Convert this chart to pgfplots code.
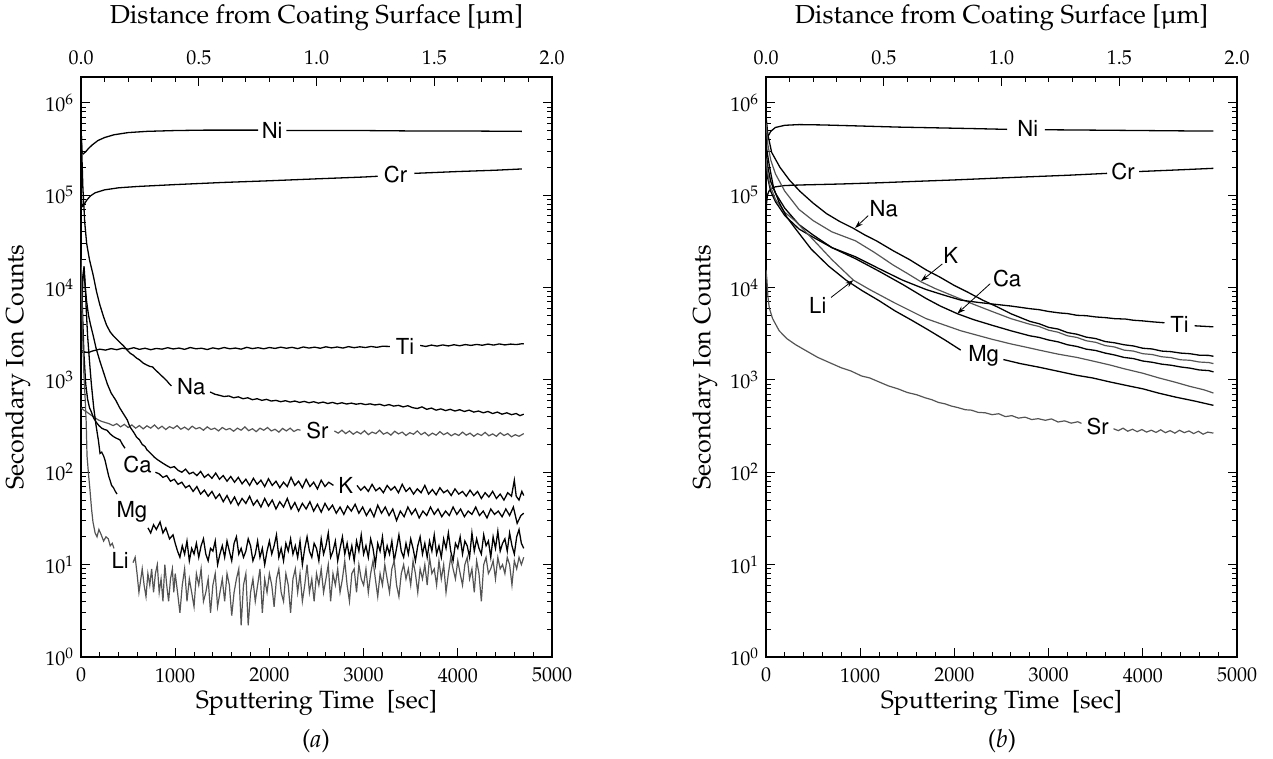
\documentclass[border=0pt]{standalone}
\usepackage[T1]{fontenc}
\usepackage{mathpazo}
\usepackage[scaled=0.92]{helvet}
\usepackage{textcomp}
\usepackage{pgfplots}
\pgfplotsset{compat=1.18}
\usetikzlibrary{arrows.meta}
\definecolor{gr}{gray}{0.33}
\tikzset{
  blk/.style={black, line width=0.65pt},
  gry/.style={gr, line width=0.6pt},
  lab/.style={font=\sffamily\fontsize{12}{14}\selectfont, inner sep=0pt},
  arr/.style={-{Stealth[length=4pt,width=2.6pt]}, line width=0.4pt, black},
}
\begin{document}
\begin{tikzpicture}
\path[use as bounding box] (0,0) rectangle (636.5pt,379.5pt);
% ---------------- panel (a) ----------------
\begin{axis}[at={(40.5pt,51pt)},
    anchor=south west, scale only axis, width=235.5pt, height=290pt,
    xmin=0, xmax=5000, ymode=log, ymin=1, ymax=1.9e6,
    xtick={0,1000,2000,3000,4000,5000}, minor x tick num=4,
    xtick pos=left, ytick={1,10,100,1000,10000,100000,1000000},
    tick align=inside, scaled x ticks=false,
    xticklabel style={/pgf/number format/1000 sep={}, yshift=-2pt},
    axis line style={line width=0.9pt}, tick style={line width=0.45pt, black},
    major tick length=4.5pt, minor tick length=2.5pt,
    tick label style={font=\fontsize{10}{12}\selectfont},
    label style={font=\fontsize{12.5}{14}\selectfont},
    xlabel={Sputtering Time\enspace[sec]}, ylabel={Secondary Ion Counts},
    x label style={at={(axis description cs:0.5,-0.08)}, anchor=center},
    y label style={at={(axis description cs:-0.134,0.5)}, anchor=center, rotate=0},
    unbounded coords=jump]
% Ni
\addplot[blk] coordinates {(0,5.5e5) (5,4e5) (10,2.9e5) (25,2.8e5) (50,2.95e5) (80,3.2e5) (120,3.5e5) (180,3.9e5) (250,4.2e5) (350,4.5e5) (500,4.75e5) (700,4.9e5) (1000,5.0e5) (1300,5.05e5) (1600,5.05e5) (1880,5.05e5) (1900,nan) (2180,5.0e5) (2600,5.0e5) (3000,5.0e5) (3500,4.95e5) (4000,4.95e5) (4680,4.9e5)};
% Cr
\addplot[blk] coordinates {(0,1.1e5) (5,9e4) (12,7.5e4) (30,7.8e4) (60,8.8e4) (100,9.8e4) (150,1.06e5) (250,1.14e5) (400,1.2e5) (600,1.24e5) (1000,1.3e5) (1500,1.37e5) (2000,1.43e5) (2500,1.5e5) (3000,1.57e5) (3150,1.6e5) (3200,nan) (3540,1.72e5) (4000,1.8e5) (4400,1.86e5) (4680,1.92e5)};
% Ti
\addplot[blk] coordinates {(0,2100) (40,2000) (80,1980) (120,2050) (160,2100) (200,2150) (260,2100) (320,2180) (380,2120) (440,2200) (500,2150) (560,2230) (620,2140) (680,2200) (740,2120) (800,2190) (860,2150) (920,2230) (980,2160) (1040,2210) (1100,2140) (1160,2240) (1220,2170) (1280,2200) (1340,2130) (1400,2220) (1460,2160) (1520,2240) (1580,2170) (1640,2210) (1700,2150) (1760,2250) (1820,2180) (1880,2230) (1940,2170) (2000,2240) (2060,2190) (2120,2260) (2180,2200) (2240,2250) (2300,2180) (2360,2270) (2420,2210) (2480,2260) (2540,2200) (2600,2280) (2660,2220) (2720,2270) (2780,2210) (2840,2290) (2900,2230) (2960,2280) (3020,2240) (3080,2300) (3140,2250) (3200,2310) (3280,2300) (3300,nan) (3600,2360) (3660,2300) (3720,2380) (3780,2320) (3840,2390) (3900,2330) (3960,2400) (4020,2340) (4080,2410) (4140,2360) (4200,2420) (4260,2370) (4320,2440) (4380,2380) (4440,2450) (4500,2390) (4560,2440) (4620,2410) (4680,2460) (4700,2450)};
% Na
\addplot[blk] coordinates {(0,6e5) (8,3e5) (20,1.2e5) (40,5e4) (60,3e4) (90,2e4) (130,1.35e4) (165,9e3) (200,6.5e3) (240,4.8e3) (272,3.9e3) (310,3.3e3) (343,3.0e3) (380,2.75e3) (420,2.5e3) (449,2.35e3) (490,2.1e3) (520,1.95e3) (555,1.85e3) (590,1.72e3) (620,1.65e3) (660,1.52e3) (697,1.45e3) (730,1.4e3) (760,1.38e3) (790,1.28e3) (820,1.2e3) (850,1.12e3) (880,1.05e3) (910,980) (940,900) (960,860) (980,nan) (1370,740) (1420,700) (1470,680) (1520,660) (1570,670) (1620,640) (1670,655) (1720,625) (1770,640) (1820,610) (1870,625) (1920,600) (1970,615) (2020,590) (2070,600) (2120,580) (2170,595) (2220,575) (2270,590) (2320,570) (2370,585) (2420,565) (2470,580) (2520,560) (2570,575) (2620,555) (2670,570) (2720,550) (2770,565) (2820,548) (2870,560) (2920,545) (2970,555) (3020,540) (3070,550) (3120,535) (3170,545) (3220,525) (3270,540) (3320,520) (3370,530) (3420,510) (3470,525) (3520,500) (3570,490) (3620,510) (3670,480) (3720,495) (3770,470) (3820,485) (3870,465) (3920,480) (3970,460) (4020,475) (4070,455) (4120,470) (4170,448) (4220,460) (4270,440) (4320,455) (4370,432) (4420,448) (4470,425) (4520,440) (4570,420) (4620,432) (4660,410) (4700,425)};
% Sr
\addplot[gry] coordinates {(0,500) (30,470) (60,450) (100,420) (140,395) (180,370) (220,355) (260,345) (300,335) (340,320) (380,335) (420,310) (460,330) (500,305) (540,325) (580,300) (620,320) (660,295) (700,318) (740,300) (780,325) (820,295) (860,315) (900,290) (940,312) (980,298) (1020,320) (1060,292) (1100,308) (1140,288) (1180,315) (1220,295) (1260,305) (1300,285) (1340,310) (1380,290) (1420,300) (1460,280) (1500,305) (1540,288) (1580,298) (1620,278) (1660,300) (1700,285) (1740,310) (1780,282) (1820,296) (1860,275) (1900,300) (1940,285) (1980,305) (2020,280) (2060,292) (2100,272) (2140,298) (2180,280) (2220,300) (2260,276) (2300,290) (2330,285) (2350,nan) (2690,280) (2730,265) (2770,285) (2810,262) (2850,280) (2890,258) (2930,275) (2970,260) (3010,282) (3050,255) (3090,272) (3130,262) (3170,285) (3210,258) (3250,270) (3290,252) (3330,278) (3370,260) (3410,272) (3450,250) (3490,268) (3530,258) (3570,280) (3610,255) (3650,270) (3690,248) (3730,265) (3770,252) (3810,275) (3850,255) (3890,268) (3930,248) (3970,262) (4010,250) (4050,272) (4090,252) (4130,265) (4170,245) (4210,262) (4250,250) (4290,270) (4330,248) (4370,260) (4410,245) (4450,268) (4490,250) (4530,262) (4570,242) (4610,255) (4650,245) (4700,262)};
% K
\addplot[blk] coordinates {(0,8e3) (15,1.2e4) (30,1.6e4) (45,1.0e4) (60,7e3) (80,5e3) (100,4e3) (130,3e3) (160,2.2e3) (200,1.6e3) (240,1.2e3) (280,900) (320,720) (370,600) (410,500) (450,430) (490,370) (520,310) (560,270) (590,240) (620,225) (650,200) (680,190) (700,175) (740,160) (780,145) (820,135) (870,125) (910,118) (950,112) (990,115) (1030,105) (1070,100) (1110,108) (1150,96) (1190,100) (1230,92) (1270,102) (1310,88) (1350,95) (1390,86) (1430,98) (1470,84) (1510,92) (1550,80) (1590,90) (1630,78) (1670,88) (1710,75) (1750,84) (1790,72) (1830,86) (1870,74) (1910,82) (1950,70) (1990,85) (2030,72) (2070,80) (2110,68) (2150,78) (2190,70) (2230,88) (2270,72) (2310,80) (2350,68) (2390,84) (2430,70) (2470,78) (2510,66) (2550,82) (2590,70) (2630,78) (2680,72) (2700,nan) (2930,72) (2970,64) (3010,70) (3050,62) (3090,74) (3130,63) (3170,68) (3210,60) (3250,72) (3290,64) (3330,70) (3370,60) (3410,74) (3450,62) (3490,68) (3530,58) (3570,66) (3610,60) (3650,72) (3690,58) (3730,65) (3770,57) (3810,68) (3850,60) (3890,64) (3930,56) (3970,66) (4010,58) (4050,62) (4090,55) (4130,64) (4170,56) (4210,62) (4250,52) (4290,60) (4330,54) (4370,62) (4410,52) (4450,58) (4490,50) (4530,60) (4570,55) (4600,82) (4620,55) (4650,50) (4680,62) (4700,56)};
% Ca
\addplot[blk] coordinates {(0,1.2e4) (15,6e3) (30,2e3) (50,900) (70,620) (90,500) (110,450) (132,390) (160,350) (190,320) (220,300) (250,290) (276,285) (310,260) (340,245) (370,235) (414,224) (440,200) (467,182) (480,nan) (790,100) (830,96) (870,88) (910,92) (950,80) (990,84) (1030,74) (1070,78) (1110,68) (1150,72) (1190,62) (1230,70) (1270,58) (1310,64) (1350,55) (1390,62) (1430,52) (1470,58) (1510,48) (1550,56) (1590,46) (1630,54) (1670,44) (1710,52) (1750,46) (1790,55) (1830,44) (1870,50) (1910,42) (1950,52) (1990,43) (2030,50) (2070,40) (2110,48) (2150,42) (2190,52) (2230,40) (2270,47) (2310,38) (2350,46) (2390,40) (2430,48) (2470,38) (2510,45) (2550,37) (2590,46) (2630,39) (2670,44) (2710,36) (2750,42) (2790,35) (2830,43) (2870,38) (2910,45) (2950,36) (2990,42) (3030,34) (3070,40) (3110,33) (3150,44) (3190,36) (3230,42) (3270,34) (3310,40) (3350,30) (3390,38) (3430,33) (3470,42) (3510,35) (3550,40) (3590,32) (3630,38) (3670,34) (3710,42) (3750,35) (3790,40) (3830,33) (3870,38) (3910,34) (3950,42) (3990,35) (4030,40) (4070,33) (4110,38) (4150,35) (4190,42) (4230,34) (4270,38) (4310,32) (4350,40) (4390,35) (4430,38) (4470,33) (4510,40) (4550,34) (4590,42) (4630,28) (4670,34) (4700,36)};
% Mg
\addplot[blk] coordinates {(0,1e4) (10,6e3) (20,1.2e4) (32,1.7e4) (42,1.2e4) (55,6e3) (70,3e3) (90,1.6e3) (110,900) (135,500) (160,320) (185,220) (202,160) (220,165) (240,150) (255,135) (275,110) (295,90) (308,82) (325,72) (345,68) (361,63) (382,58) (400,nan) (711,25) (740,22) (770,27) (800,24) (839,29) (870,22) (900,25) (940,19) (977,21)
(1000,17) (1025,14) (1050,12) (1075,16) (1100,13) (1125,18) (1150,11) (1175,15) (1200,13) (1225,17)
(1250,12) (1275,16) (1300,19) (1325,13) (1350,11) (1375,15) (1400,14) (1425,18) (1450,10) (1475,13)
(1500,16) (1525,12) (1550,18) (1575,14) (1600,11) (1625,17) (1650,20) (1675,13) (1700,15) (1725,12)
(1750,14) (1775,19) (1800,16) (1825,11) (1850,13) (1875,18) (1900,12) (1925,15) (1950,10) (1975,14)
(2000,18) (2025,13) (2050,16) (2075,21) (2100,12) (2125,15) (2150,11) (2175,17) (2200,14) (2225,19)
(2250,13) (2275,16) (2300,12) (2325,18) (2350,10) (2375,15) (2400,20) (2425,14) (2450,12) (2475,17)
(2500,15) (2525,11) (2550,19) (2575,13) (2600,16) (2625,22) (2650,12) (2675,14) (2700,18) (2725,11)
(2750,15) (2775,20) (2800,13) (2825,17) (2850,12) (2875,16) (2900,11) (2925,18) (2950,14) (2975,21)
(3000,13) (3025,16) (3050,12) (3075,19) (3100,15) (3125,10) (3150,17) (3175,14) (3200,20) (3225,12)
(3250,16) (3275,13) (3300,18) (3325,11) (3350,15) (3375,21) (3400,14) (3425,12) (3450,17) (3475,13)
(3500,19) (3525,15) (3550,11) (3575,16) (3600,20) (3625,13) (3650,17) (3675,12) (3700,18) (3725,14)
(3750,21) (3775,13) (3800,16) (3825,12) (3850,19) (3875,15) (3900,22) (3925,14) (3950,11) (3975,17)
(4000,15) (4025,20) (4050,13) (4075,18) (4100,16) (4125,12) (4150,22) (4175,14) (4200,19) (4225,15)
(4250,13) (4275,21) (4300,16) (4325,18) (4350,12) (4375,20) (4400,15) (4425,23) (4450,14) (4475,17)
(4500,19) (4525,14) (4550,22) (4575,16) (4600,13) (4625,20) (4650,24) (4675,17) (4700,15)};
% Li
\addplot[gry] coordinates {(0,2e4) (8,8e3) (18,3e3) (30,1.2e3) (45,600) (55,350) (64,150) (80,95) (96,63) (112,40) (127,29) (150,22) (170,20) (190,24) (215,21) (240,18) (265,20) (290,19) (310,16) (332,17) (350,15) (370,nan) (552,10.5) (575,12) (595,8) (615,5) (635,7) (650,9) (670,6) (690,4.5) (710,8) (730,6) (750,9) (770,5) (790,8) (810,10) (830,5) (850,7) (870,4) (890,10) (910,6) (930,4) (950,7) (970,9) (985,5)
(1000,8) (1025,5) (1050,3) (1075,6) (1100,9) (1125,4) (1150,7) (1175,5) (1200,3.5) (1225,8)
(1250,6) (1275,9) (1300,4) (1325,5) (1350,7) (1375,3) (1400,6) (1425,8) (1450,3.5) (1475,5)
(1500,7) (1525,4) (1550,8) (1575,6) (1600,2.8) (1625,5) (1650,7) (1675,9) (1700,2.2) (1725,6)
(1750,8) (1775,2.2) (1800,5) (1825,7) (1850,4) (1875,6) (1900,9) (1925,3) (1950,7) (1975,5)
(2000,8) (2025,6) (2050,3.5) (2075,7) (2100,9) (2125,5) (2150,4) (2175,8) (2200,6) (2225,3)
(2250,7) (2275,9) (2300,5) (2325,8) (2350,4) (2375,6) (2400,10) (2425,5) (2450,7) (2475,4)
(2500,8) (2525,6) (2550,9) (2575,5) (2600,7) (2625,10) (2650,4) (2675,8) (2700,6) (2725,9)
(2750,5) (2775,7) (2800,11) (2825,6) (2850,4) (2875,8) (2900,9) (2925,5) (2950,10) (2975,7)
(3000,6) (3025,9) (3050,5) (3075,8) (3100,11) (3125,7) (3150,4.5) (3175,8) (3200,6) (3225,10)
(3250,7) (3275,5) (3300,9) (3325,11) (3350,6) (3375,4.5) (3400,8) (3425,10) (3450,7) (3475,9)
(3500,6) (3525,11) (3550,8) (3575,5) (3600,9) (3625,7) (3650,10) (3675,6) (3700,12) (3725,8)
(3750,9) (3775,6) (3800,11) (3825,7) (3850,10) (3875,5) (3900,8) (3925,12) (3950,9) (3975,7)
(4000,11) (4025,8) (4050,6) (4075,10) (4100,12) (4125,7) (4150,9) (4175,5) (4200,11) (4225,8)
(4250,4) (4275,10) (4300,12) (4325,8) (4350,9) (4375,11) (4400,7) (4425,12) (4450,9) (4475,10)
(4500,8) (4525,12) (4550,10) (4575,6) (4600,11) (4625,9) (4650,12) (4675,10) (4700,12)};
\node[lab] at (axis cs:2030,5.0e5) {Ni};
\node[lab] at (axis cs:3340,1.67e5) {Cr};
\node[lab] at (axis cs:3440,2.3e3) {Ti};
\node[lab] at (axis cs:1170,840) {Na};
\node[lab] at (axis cs:2510,280) {Sr};
\node[lab] at (axis cs:2810,71) {K};
\node[lab] at (axis cs:600,122) {Ca};
\node[lab] at (axis cs:540,37) {Mg};
\node[lab] at (axis cs:415,11) {Li};
\end{axis}
\begin{axis}[at={(40.5pt,51pt)},
    anchor=south west, scale only axis, width=235.5pt, height=290pt,
    xmin=0, xmax=2, ymin=0, ymax=1, axis x line*=top, axis y line=none,
    xtick={0,0.5,1,1.5,2}, minor x tick num=4, tick align=inside,
    axis line style={line width=0.9pt}, tick style={line width=0.45pt, black},
    major tick length=4.5pt, minor tick length=2.5pt,
    xticklabel style={font=\fontsize{10}{12}\selectfont, yshift=2.5pt, /pgf/number format/.cd, fixed, fixed zerofill, precision=1},
    label style={font=\fontsize{13}{15}\selectfont},
    xlabel={Distance from Coating Surface [\textmu m]},
    x label style={at={(axis description cs:0.5,1.102)}, anchor=center}]
\end{axis}
% ---------------- panel (b) ----------------
\begin{axis}[at={(383pt,51pt)},
    anchor=south west, scale only axis, width=235.5pt, height=290pt,
    xmin=0, xmax=5000, ymode=log, ymin=1, ymax=1.9e6,
    xtick={0,1000,2000,3000,4000,5000}, minor x tick num=4,
    xtick pos=left, ytick={1,10,100,1000,10000,100000,1000000},
    tick align=inside, scaled x ticks=false,
    xticklabel style={/pgf/number format/1000 sep={}, yshift=-2pt},
    axis line style={line width=0.9pt}, tick style={line width=0.45pt, black},
    major tick length=4.5pt, minor tick length=2.5pt,
    tick label style={font=\fontsize{10}{12}\selectfont},
    label style={font=\fontsize{12.5}{14}\selectfont},
    xlabel={Sputtering Time\enspace[sec]}, ylabel={Secondary Ion Counts},
    x label style={at={(axis description cs:0.5,-0.08)}, anchor=center},
    y label style={at={(axis description cs:-0.13,0.5)}, anchor=center, rotate=0},
    unbounded coords=jump]
% Ni
\addplot[blk] coordinates {(0,7.5e5) (8,5e5) (20,4.3e5) (50,4.9e5) (100,5.4e5) (200,5.7e5) (350,5.8e5) (600,5.75e5) (1000,5.6e5) (1400,5.45e5) (1800,5.35e5) (2200,5.25e5) (2560,5.15e5) (2600,nan) (2960,5.1e5) (3500,5.05e5) (4000,5.0e5) (4500,4.95e5) (4750,4.95e5)};
% Cr
\addplot[blk] coordinates {(0,5e4) (5,8e4) (15,1.0e5) (30,1.1e5) (60,1.18e5) (100,1.23e5) (200,1.27e5) (400,1.29e5) (800,1.32e5) (1200,1.36e5) (1600,1.41e5) (2000,1.46e5) (2400,1.52e5) (2800,1.58e5) (3200,1.64e5) (3620,1.72e5) (3700,nan) (3960,1.8e5) (4400,1.88e5) (4750,1.95e5)};
% Na
\addplot[blk] coordinates {(0,7e5) (20,4.5e5) (60,2.9e5) (148,2.0e5) (250,1.45e5) (360,1.1e5) (500,8.2e4) (643,6.3e4) (780,5.2e4) (922,4.4e4) (1050,3.7e4) (1172,3.2e4) (1350,2.5e4) (1525,2.0e4) (1700,1.55e4) (1843,1.3e4) (2000,1.05e4) (2150,8.8e3) (2300,7.3e3) (2450,6.2e3) (2600,5.2e3) (2800,4.3e3) (2900,4.05e3) (3000,3.7e3) (3100,3.55e3) (3200,3.25e3) (3300,3.12e3) (3400,2.9e3) (3500,2.8e3) (3600,2.6e3) (3700,2.52e3) (3800,2.4e3) (3900,2.33e3) (4000,2.2e3) (4100,2.16e3) (4200,2.05e3) (4300,2.02e3) (4400,1.95e3) (4500,1.92e3) (4600,1.85e3) (4700,1.84e3) (4750,1.8e3)};
% K
\addplot[gry] coordinates {(0,6e5) (20,3.5e5) (50,2.4e5) (100,1.7e5) (200,1.1e5) (350,7e4) (500,5.3e4) (700,4e4) (950,3.2e4) (1150,2.4e4) (1350,1.75e4) (1500,1.42e4) (1647,1.15e4) (1800,9.7e3) (2000,8.0e3) (2200,6.6e3) (2400,5.5e3) (2600,4.6e3) (2800,4.0e3) (2900,3.78e3) (3000,3.45e3) (3100,3.28e3) (3200,3.0e3) (3300,2.88e3) (3400,2.65e3) (3500,2.55e3) (3600,2.35e3) (3700,2.27e3) (3800,2.1e3) (3900,2.05e3) (4000,1.92e3) (4100,1.88e3) (4200,1.78e3) (4300,1.74e3) (4400,1.65e3) (4500,1.63e3) (4600,1.56e3) (4700,1.54e3) (4750,1.5e3)};
% Ti
\addplot[blk] coordinates {(0,2e5) (20,1.5e5) (50,1.1e5) (100,8.5e4) (200,6e4) (350,4.3e4) (500,3.5e4) (700,2.7e4) (950,2.15e4) (1200,1.6e4) (1450,1.2e4) (1700,9.5e3) (1900,8.2e3) (2068,7.3e3) (2250,6.9e3) (2418,6.6e3) (2600,6.3e3) (2800,5.9e3) (2900,5.75e3) (3000,5.5e3) (3118,5.3e3) (3200,5.22e3) (3300,5.0e3) (3400,4.95e3) (3500,4.8e3) (3600,4.72e3) (3700,4.6e3) (3819,4.55e3) (3900,4.42e3) (4000,4.35e3) (4100,4.25e3) (4230,4.15e3) (4250,nan) (4550,3.85e3) (4650,3.8e3) (4750,3.75e3)};
% Ca
\addplot[blk] coordinates {(0,3e5) (20,2e5) (50,1.4e5) (100,1.05e5) (200,7.2e4) (350,4.8e4) (500,3.7e4) (700,2.7e4) (950,2.05e4) (1200,1.5e4) (1450,1.08e4) (1700,7.6e3) (1850,6.3e3) (2032,5.2e3) (2200,4.5e3) (2400,3.9e3) (2600,3.4e3) (2800,3.0e3) (2900,2.88e3) (3000,2.7e3) (3100,2.58e3) (3200,2.4e3) (3300,2.3e3) (3400,2.15e3) (3500,2.08e3) (3600,1.95e3) (3700,1.86e3) (3800,1.75e3) (3900,1.7e3) (4000,1.6e3) (4100,1.55e3) (4200,1.48e3) (4300,1.44e3) (4400,1.38e3) (4500,1.34e3) (4600,1.28e3) (4700,1.26e3) (4750,1.22e3)};
% Li
\addplot[gry] coordinates {(0,2.5e5) (15,1.8e5) (40,1.3e5) (100,9e4) (200,6.5e4) (315,5.2e4) (500,3.3e4) (700,2e4) (928,1.2e4) (1100,9.5e3) (1367,6.8e3) (1700,4.6e3) (2068,3.4e3) (2400,2.75e3) (2600,2.45e3) (2768,2.25e3) (2900,2.1e3) (3100,1.9e3) (3300,1.75e3) (3469,1.6e3) (3650,1.45e3) (3800,1.32e3) (4000,1.18e3) (4170,1.05e3) (4350,940) (4500,850) (4650,780) (4750,720)};
% Mg
\addplot[blk] coordinates {(0,4e5) (10,3e5) (35,2.1e5) (80,1.2e5) (140,8.3e4) (220,5.8e4) (315,4.3e4) (480,2.6e4) (666,1.7e4) (850,1.2e4) (1016,9.3e3) (1200,7.2e3) (1367,5.6e3) (1550,4.4e3) (1717,3.5e3) (1900,2.7e3) (2067,2.1e3) (2100,nan) (2520,1.66e3) (2700,1.5e3) (2900,1.37e3) (3115,1.23e3) (3300,1.12e3) (3465,1.05e3) (3650,950) (3850,860) (4000,800) (4165,720) (4350,650) (4550,590) (4750,530)};
% Sr
\addplot[gry] coordinates {(0,1.55e4) (10,1.2e4) (20,8e3) (35,6e3) (70,4.6e3) (140,3.4e3) (220,2.8e3) (315,2.4e3) (450,2e3) (550,1.75e3) (666,1.55e3) (800,1.35e3) (900,1.25e3) (1016,1.1e3) (1100,1.05e3) (1200,950) (1300,860) (1400,800) (1500,730) (1600,690) (1689,640) (1760,610) (1830,570) (1900,550) (1970,520) (2040,500) (2115,475) (2180,470) (2250,445) (2328,440) (2400,420) (2470,430) (2540,400) (2610,410) (2680,385) (2750,395) (2820,372) (2890,380) (2966,365) (3030,378) (3100,350) (3170,360) (3240,340) (3310,352) (3349,338) (3400,nan) (3689,296) (3740,282) (3790,300) (3840,278) (3890,292) (3940,275) (3990,290) (4040,272) (4090,285) (4140,270) (4190,288) (4240,268) (4290,282) (4340,265) (4390,285) (4440,268) (4490,280) (4540,262) (4590,278) (4640,258) (4690,272) (4750,265)};
\node[lab] at (axis cs:2780,5.2e5) {Ni};
\node[lab] at (axis cs:3790,1.78e5) {Cr};
\node[lab] at (axis cs:4390,4.0e3) {Ti};
\node[lab] at (axis cs:2310,1.8e3) {Mg};
\node[lab] at (axis cs:3520,310) {Sr};
\node[lab] at (axis cs:1250,7.2e4) {Na};
\draw[arr] (axis cs:1085,6e4) -- (axis cs:945,4.4e4);
\node[lab] at (axis cs:1960,2.2e4) {K};
\draw[arr] (axis cs:1872,1.8e4) -- (axis cs:1645,1.17e4);
\node[lab] at (axis cs:2560,1.26e4) {Ca};
\draw[arr] (axis cs:2380,1.1e4) -- (axis cs:2030,5.2e3);
\node[lab] at (axis cs:550,6.3e3) {Li};
\draw[arr] (axis cs:690,7.8e3) -- (axis cs:927,1.2e4);
\end{axis}
\begin{axis}[at={(383pt,51pt)},
    anchor=south west, scale only axis, width=235.5pt, height=290pt,
    xmin=0, xmax=2, ymin=0, ymax=1, axis x line*=top, axis y line=none,
    xtick={0,0.5,1,1.5,2}, minor x tick num=4, tick align=inside,
    axis line style={line width=0.9pt}, tick style={line width=0.45pt, black},
    major tick length=4.5pt, minor tick length=2.5pt,
    xticklabel style={font=\fontsize{10}{12}\selectfont, yshift=2.5pt, /pgf/number format/.cd, fixed, fixed zerofill, precision=1},
    label style={font=\fontsize{13}{15}\selectfont},
    xlabel={Distance from Coating Surface [\textmu m]},
    x label style={at={(axis description cs:0.5,1.102)}, anchor=center}]
\end{axis}
\node[font=\fontsize{12.5}{14}\selectfont] at (158pt,9pt) {(\textit{a})};
\node[font=\fontsize{12.5}{14}\selectfont] at (501pt,9pt) {(\textit{b})};
\end{tikzpicture}
\end{document}
